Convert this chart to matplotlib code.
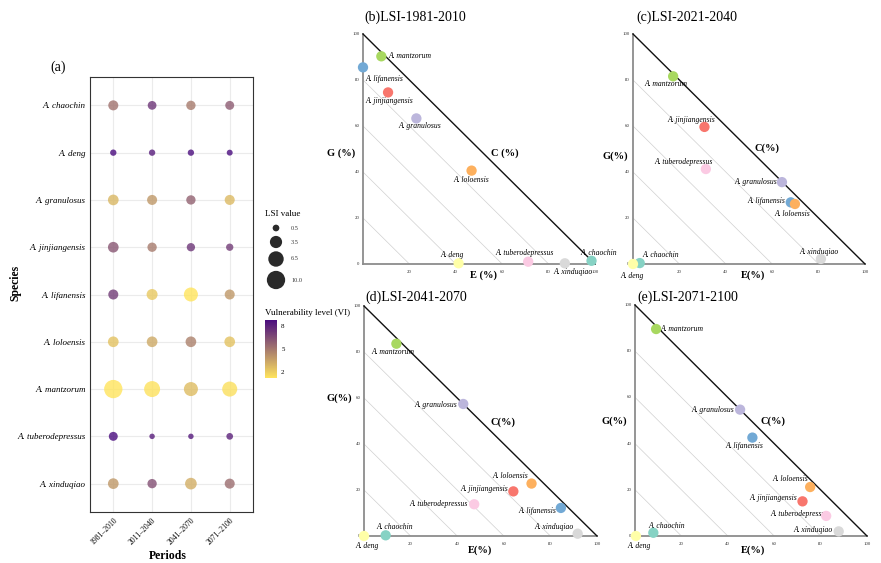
import numpy as np
import matplotlib
matplotlib.use("Agg")
import matplotlib.pyplot as plt
from matplotlib.colors import LinearSegmentedColormap, Normalize
from matplotlib.cm import ScalarMappable

plt.rcParams['font.family'] = ['Liberation Serif', 'DejaVu Serif']

# ---- data -----------------------------------------------------------------
species = ["A. chaochin", "A. deng", "A. granulosus", "A. jinjiangensis",
           "A. lifanensis", "A. loloensis", "A. mantzorum",
           "A. tuberodepressus", "A. xinduqiao"]
periods = ["1981–2010", "2011–2040", "2041–2070", "2071–2100"]

# LSI value per species (rows) and period (columns)
lsi_values = [
    [2.0, 1.3, 1.6, 1.4],
    [0.4, 0.4, 0.4, 0.3],
    [2.4, 2.0, 1.6, 2.0],
    [2.4, 1.6, 1.1, 0.7],
    [2.0, 2.6, 5.1, 2.0],
    [2.4, 2.4, 2.4, 2.4],
    [10.0, 7.1, 5.1, 6.1],
    [1.4, 0.2, 0.2, 0.5],
    [2.4, 1.6, 3.1, 2.0],
]
# vulnerability level (VI)
vi_values = [
    [5.2, 7.3, 4.9, 6.0],
    [8.8, 8.2, 8.7, 8.8],
    [2.8, 3.9, 5.8, 2.7],
    [6.2, 4.9, 7.3, 7.1],
    [7.1, 2.2, 1.2, 3.9],
    [2.4, 3.3, 4.7, 2.4],
    [1.2, 1.3, 2.6, 1.4],
    [8.8, 8.2, 8.3, 8.0],
    [3.9, 6.4, 3.1, 5.4],
]
lsi_legend = [0.5, 3.5, 6.5, 10.0]
vi_ticks = [2, 5, 8]

# ternary positions (E %, G %), species order as above
tern_E = {
    "b": [98.5, 41.2, 23.0, 10.8, 0.0, 46.8, 7.9, 71.2, 87.0],
    "c": [2.9, 0.0, 64.2, 30.8, 68.0, 69.8, 17.3, 31.4, 81.0],
    "d": [9.3, 0.0, 42.6, 64.1, 84.5, 71.9, 13.9, 47.3, 91.7],
    "e": [7.9, 0.4, 45.3, 72.2, 50.6, 75.5, 9.1, 82.4, 87.8],
}
tern_G = {
    "b": [1.4, 0.3, 63.3, 74.6, 85.5, 40.6, 90.3, 1.0, 0.3],
    "c": [0.4, 0.0, 35.6, 59.6, 26.8, 26.1, 81.6, 41.3, 2.2],
    "d": [0.3, 0.0, 57.4, 19.4, 12.2, 22.8, 83.6, 13.8, 1.0],
    "e": [1.4, 0.0, 54.7, 15.0, 42.6, 21.2, 89.6, 8.7, 2.0],
}
tern_titles = {"b": "(b)LSI-1981-2010", "c": "(c)LSI-2021-2040",
               "d": "(d)LSI-2041-2070", "e": "(e)LSI-2071-2100"}
tern_axis_names = {"b": ("G (%)", "C (%)", "E (%)"), "c": ("G(%)", "C(%)", "E(%)"),
                   "d": ("G(%)", "C(%)", "E(%)"), "e": ("G(%)", "C(%)", "E(%)")}

# ---- styles ---------------------------------------------------------------
species_colors = ["#86D2C4", "#FFFFA8", "#BCB6DC", "#F8766D", "#72A9D5",
                  "#FDB05E", "#A8D860", "#FBCAE3", "#D9D9D9"]
vi_cmap = LinearSegmentedColormap.from_list("vi", ["#FFE45C", "#4A0C7F"])
vi_norm = Normalize(vmin=1.2, vmax=8.8)

# label offsets (points) and alignment for each panel
label_offsets = {
    "b": [(5, 5.5, "center"), (-4.6, 6, "center"), (2.4, -5.8, "center"),
          (1, -6, "center"), (1.5, -8.4, "left"), (0, -6.5, "center"),
          (4.8, 0, "left"), (-2.4, 6.5, "center"), (6.2, -6.5, "center")],
    "c": [(15, 5.8, "center"), (-1, -8.9, "center"), (-3.1, 0, "right"),
          (-9.8, 5.3, "center"), (-3.6, 1.2, "right"), (-1.7, -7.2, "center"),
          (-5.3, -5.5, "center"), (-15.8, 4.8, "center"), (-1.4, 5, "center")],
    "d": [(6.5, 6.2, "center"), (1.9, -7.2, "center"), (-4.3, -0.7, "right"),
          (-3.6, 1.9, "right"), (-16.6, -2.4, "center"), (-15.4, 5.3, "center"),
          (-2.2, -6, "center"), (-4.3, 0, "right"), (-16.8, 4.8, "center")],
    "e": [(9.6, 4.8, "center"), (2.2, -7.4, "center"), (-4.3, 0, "right"),
          (-3.6, 2.4, "right"), (-6, -6.2, "center"), (-14.4, 6, "center"),
          (3.4, 0, "left"), (-40, 1.7, "left"), (-4.1, 0.7, "right")],
}
# axis name positions in data units: G, C, E
axis_name_pos = {
    "b": [(-3.5, 48), (61, 48), (52, -5)],
    "c": [(-2, 47), (57.8, 50.4), (51.7, -5)],
    "d": [(-5, 60), (59.7, 49.6), (49.8, -6)],
    "e": [(-3.5, 49.6), (59.5, 49.6), (51, -6)],
}
# axes boxes in pixels (x0, y0, x1, y1) and title anchor
tern_boxes = {"b": (363, 34, 595, 264), "c": (633, 34, 865, 264),
              "d": (364, 306, 597, 536), "e": (635, 305, 867, 536)}
title_pos = {"b": (364, 17), "c": (636, 17), "d": (365, 297), "e": (637, 297)}

W, H = 881, 563
fig = plt.figure(figsize=(W / 100, H / 100), dpi=100)


def px_axes(x0, y0, x1, y1):
    return fig.add_axes([x0 / W, 1 - y1 / H, (x1 - x0) / W, (y1 - y0) / H])


def lsi_size(v):
    # marker area (pt^2) from LSI value, area grows with sqrt scaling
    d_px = 3.35 + 4.73 * np.sqrt(np.asarray(v, dtype=float))
    return (d_px * 0.72) ** 2


# ---- panel (a) ------------------------------------------------------------
ax = px_axes(90, 77, 253, 512)
n_sp = len(species)
xx, yy = np.meshgrid(np.arange(1, len(periods) + 1), n_sp - np.arange(n_sp))
ax.scatter(xx.ravel(), yy.ravel(), s=lsi_size(np.array(lsi_values).ravel()),
           c=np.array(vi_values).ravel(), cmap=vi_cmap, norm=vi_norm,
           alpha=0.8, linewidths=0, zorder=3)
ax.set_xlim(0.4, 4.6)
ax.set_ylim(0.4, n_sp + 0.6)
ax.set_xticks(np.arange(1, len(periods) + 1))
ax.set_xticklabels(periods, rotation=45, ha='right', rotation_mode='anchor')
ax.set_yticks(n_sp - np.arange(n_sp))
ax.set_yticklabels(species, fontstyle='italic')
ax.grid(True, color='#EBEBEB', lw=0.8)
ax.set_axisbelow(True)
for sp in ax.spines.values():
    sp.set_color('#333333')
    sp.set_linewidth(0.8)
ax.tick_params(axis='y', labelsize=6.5, length=0, pad=3)
ax.tick_params(axis='x', labelsize=5.5, length=0, pad=3)

cax = px_axes(265, 320, 277, 378)
cb = fig.colorbar(ScalarMappable(norm=vi_norm, cmap=vi_cmap), cax=cax, ticks=vi_ticks)
cb.outline.set_visible(False)
cax.tick_params(labelsize=5, length=0, pad=3)

# overlay in pixel coordinates for figure texts and the size legend
ov = fig.add_axes([0, 0, 1, 1], zorder=5)
ov.set_xlim(0, W)
ov.set_ylim(H, 0)
ov.axis('off')
ov.text(58, 67, "(a)", fontsize=10, ha='center', va='center')
ov.text(15, 283, "Species", fontsize=8.5, fontweight='bold', rotation=90,
        ha='center', va='center')
ov.text(168, 556, "Periods", fontsize=8.5, fontweight='bold', ha='center', va='center')
ov.text(265, 214, "LSI value", fontsize=6.5, ha='left', va='center')
leg_y = [228, 242, 259, 280]
ov.scatter([276] * len(lsi_legend), leg_y, s=lsi_size(lsi_legend), color='#2A2A2A',
           linewidths=0, clip_on=False)
for v, y in zip(lsi_legend, leg_y):
    ov.text(291, y, f"{v:.1f}", fontsize=4.5, ha='left', va='center', color='#333333')
ov.text(265, 313, "Vulnerability level (VI)", fontsize=6.5, ha='left', va='center')

# ---- ternary panels -------------------------------------------------------
for key in ["b", "c", "d", "e"]:
    tx = px_axes(*tern_boxes[key])
    tx.set_xlim(0, 100)
    tx.set_ylim(0, 100)
    tx.axis('off')
    for k in [20, 40, 60, 80]:
        tx.plot([0, k], [k, 0], color='#D0D0D0', lw=0.5, zorder=1)
    tx.plot([0, 0], [0, 100], color='#8C8C8C', lw=1.3, zorder=1, clip_on=False)
    tx.plot([0, 100], [0, 0], color='#8C8C8C', lw=1.3, zorder=1, clip_on=False)
    tx.plot([0, 100], [100, 0], color='#111111', lw=1.0, zorder=1, clip_on=False)
    for t in range(0, 101, 20):
        tx.text(-1.5, t, str(t), fontsize=3.5, ha='right', va='center', color='#333333')
        if t > 0:
            tx.text(t, -2.5, str(t), fontsize=3.5, ha='center', va='top', color='#333333')

    E, G = tern_E[key], tern_G[key]
    tx.scatter(E, G, s=55, c=species_colors, linewidths=0, zorder=3, clip_on=False)
    for name, e, g, (dx, dy, ha) in zip(species, E, G, label_offsets[key]):
        tx.annotate(name, (e, g), xytext=(dx, dy), textcoords='offset points',
                    ha=ha, va='center', fontsize=5.5, fontstyle='italic',
                    zorder=2, annotation_clip=False)

    gname, cname, ename = tern_axis_names[key]
    (gx, gy), (cx_, cy_), (ex, ey) = axis_name_pos[key]
    tx.text(gx, gy, gname, fontsize=7.5, fontweight='bold', ha='right', va='center')
    tx.text(cx_, cy_, cname, fontsize=7.5, fontweight='bold', ha='center', va='center')
    tx.text(ex, ey, ename, fontsize=7.5, fontweight='bold', ha='center', va='center')

    px_, py_ = title_pos[key]
    ov.text(px_, py_, tern_titles[key], fontsize=10, ha='left', va='center')

fig.savefig("out.png", dpi=100)
